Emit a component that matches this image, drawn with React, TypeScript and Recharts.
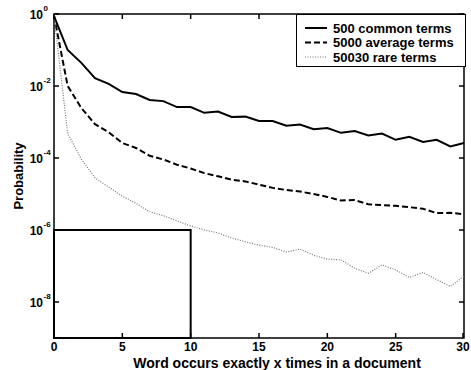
import React from 'react'
import { LineChart, Line, XAxis, YAxis, ReferenceArea, Legend } from 'recharts'

// x = number of occurrences of the word in a document
const occurrences = [
  0, 1, 2, 3, 4, 5, 6, 7, 8, 9, 10, 11, 12, 13, 14, 15,
  16, 17, 18, 19, 20, 21, 22, 23, 24, 25, 26, 27, 28, 29, 30,
]
const commonTerms = [
  0.87, 0.1, 0.044, 0.0166, 0.0115, 0.0068, 0.006, 0.0041, 0.0038, 0.0026, 0.0026,
  0.0018, 0.00195, 0.00138, 0.00141, 0.00107, 0.00107, 0.00079, 0.00085, 0.00063, 0.00068,
  0.0005, 0.00056, 0.00042, 0.00048, 0.00032, 0.00039, 0.00028, 0.00032, 0.00021, 0.00026,
]
const averageTerms = [
  0.9, 0.01, 0.00245, 0.00087, 0.00052, 0.00026, 0.00019, 0.000115, 9.1e-5, 6.5e-5, 5.1e-5,
  3.8e-5, 3.1e-5, 2.5e-5, 2.24e-5, 1.82e-5, 1.48e-5, 1.29e-5, 1.17e-5, 1.0e-5, 8.3e-6,
  6.6e-6, 6.8e-6, 5.2e-6, 4.9e-6, 4.7e-6, 4.3e-6, 3.9e-6, 2.95e-6, 3.0e-6, 2.75e-6,
]
const rareTerms = [
  0.9, 4.8e-4, 9.3e-5, 2.8e-5, 1.55e-5, 8.7e-6, 5.5e-6, 3.2e-6, 2.5e-6, 1.8e-6, 1.3e-6,
  1.0e-6, 8.3e-7, 6.0e-7, 4.7e-7, 3.8e-7, 3.3e-7, 2.45e-7, 2.95e-7, 2.0e-7, 1.55e-7,
  1.48e-7, 8.7e-8, 6.3e-8, 1.07e-7, 7.8e-8, 4.8e-8, 6.6e-8, 4.2e-8, 2.7e-8, 5.2e-8,
]
const seriesNames = ['500 common terms', '5000 average terms', '50030 rare terms']
const xTicks = [0, 5, 10, 15, 20, 25, 30]
const yTicks = [1e-8, 1e-6, 1e-4, 1e-2, 1]
const xDomain = [0, 30]
const yDomain = [1e-9, 1]
// the box drawn in the lower left corner
const boxX = [0, 10]
const boxY = [1e-9, 1e-6]

const rows = occurrences.map((x, i) => ({
  x,
  common: commonTerms[i],
  average: averageTerms[i],
  rare: rareTerms[i],
}))

const W = 471
const H = 370
const LEFT = 54
const RIGHT = 464
const TOP = 14
const BOTTOM = 338
const FONT = '"Liberation Sans", Arial, Helvetica, sans-serif'

function XTick({ x, payload }: any) {
  return (
    <g>
      <line x1={x} x2={x} y1={BOTTOM} y2={BOTTOM - 5} stroke="#000" strokeWidth={1.5} />
      <line x1={x} x2={x} y1={TOP} y2={TOP + 5} stroke="#000" strokeWidth={1.5} />
      <text x={x} y={BOTTOM + 13} textAnchor="middle" fontSize={12} fontWeight="bold" fontFamily={FONT} fill="#000">
        {payload.value}
      </text>
    </g>
  )
}

function YTick({ x, y, payload }: any) {
  const exp = Math.round(Math.log10(payload.value))
  return (
    <g>
      <line x1={LEFT} x2={LEFT + 5} y1={y} y2={y} stroke="#000" strokeWidth={1.5} />
      <line x1={RIGHT - 5} x2={RIGHT} y1={y} y2={y} stroke="#000" strokeWidth={1.5} />
      <text x={x - 1} y={y + 4.5} textAnchor="end" fontSize={12} fontWeight="bold" fontFamily={FONT} fill="#000">
        10
      </text>
      <text x={x - 0.5} y={y - 3.5} textAnchor="start" fontSize={8} fontWeight="bold" fontFamily={FONT} fill="#000">
        {exp}
      </text>
    </g>
  )
}

function LegendBox({ payload }: any) {
  const items = payload || []
  return (
    <svg width={170} height={53} style={{ display: 'block' }}>
      <rect x={0.5} y={0.5} width={169} height={52} fill="#fff" stroke="#000" strokeWidth={1} />
      {items.map((item: any, i: number) => {
        const cy = 14 + i * 14.5
        const p = item.payload || {}
        return (
          <g key={item.value}>
            <line
              x1={9}
              x2={31}
              y1={cy}
              y2={cy}
              stroke={item.color}
              strokeWidth={p.strokeWidth || 2}
              strokeDasharray={p.strokeDasharray}
            />
            <text x={37} y={cy + 4.5} fontSize={13} fontWeight="bold" fontFamily={FONT} fill="#000">
              {item.value}
            </text>
          </g>
        )
      })}
    </svg>
  )
}

export default function App() {
  return (
    <div style={{ position: 'absolute', left: 0, top: 0, width: W, height: H, background: '#fff' }}>
      <LineChart width={W} height={H} data={rows} margin={{ top: TOP, right: W - RIGHT, bottom: 0, left: 0 }}>
        <XAxis
          dataKey="x"
          type="number"
          domain={xDomain}
          ticks={xTicks}
          axisLine={false}
          tickLine={false}
          tickSize={0}
          tickMargin={0}
          height={H - BOTTOM}
          tick={<XTick />}
          label={{
            content: () => (
              <text x={277} y={367.5} textAnchor="middle" fontSize={14} fontWeight="bold" fontFamily={FONT} fill="#000">
                Word occurs exactly x times in a document
              </text>
            ),
          }}
        />
        <YAxis
          type="number"
          scale="log"
          domain={yDomain}
          ticks={yTicks}
          allowDataOverflow
          axisLine={false}
          tickLine={false}
          tickSize={0}
          tickMargin={10}
          width={LEFT}
          tick={<YTick />}
          label={{
            content: () => (
              <text
                x={23}
                y={176}
                transform="rotate(-90 23 176)"
                textAnchor="middle"
                fontSize={13}
                fontWeight="bold"
                fontFamily={FONT}
                fill="#000"
              >
                Probability
              </text>
            ),
          }}
        />
        <ReferenceArea x1={xDomain[0]} x2={xDomain[1]} y1={yDomain[0]} y2={yDomain[1]} fill="none" stroke="#000" strokeWidth={1.5} />
        <ReferenceArea x1={boxX[0]} x2={boxX[1]} y1={boxY[0]} y2={boxY[1]} fill="none" stroke="#000" strokeWidth={2} />
        <Line
          name={seriesNames[0]}
          dataKey="common"
          type="linear"
          stroke="#000"
          strokeWidth={2}
          dot={false}
          isAnimationActive={false}
        />
        <Line
          name={seriesNames[1]}
          dataKey="average"
          type="linear"
          stroke="#000"
          strokeWidth={2}
          strokeDasharray="6 3"
          dot={false}
          isAnimationActive={false}
        />
        <Line
          name={seriesNames[2]}
          dataKey="rare"
          type="linear"
          stroke="#777"
          strokeWidth={1.2}
          strokeDasharray="1 1.5"
          dot={false}
          isAnimationActive={false}
        />
        <Legend
          layout="vertical"
          align="center"
          verticalAlign="middle"
          content={<LegendBox />}
          wrapperStyle={{ left: 296, top: TOP, width: 170, height: 53 }}
        />
      </LineChart>
    </div>
  )
}
